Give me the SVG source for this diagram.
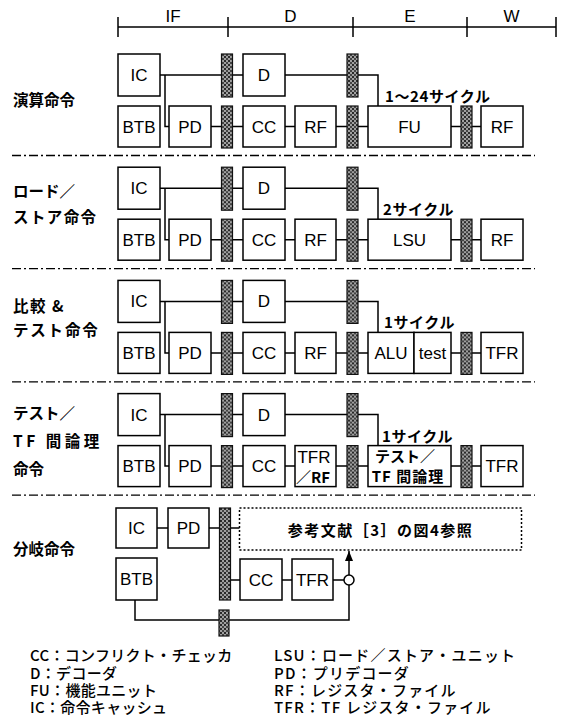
<svg xmlns="http://www.w3.org/2000/svg" width="563" height="718" viewBox="0 0 563 718">
<defs>
<pattern id="hatch" width="4" height="4" patternUnits="userSpaceOnUse">
<rect width="4" height="4" fill="#a0a0a0"/>
<rect x="0" y="0" width="2" height="2" fill="#2a2a2a"/>
<rect x="2" y="2" width="2" height="2" fill="#444"/>
</pattern>
<marker id="arr" markerWidth="10" markerHeight="8" refX="10" refY="4" orient="auto" markerUnits="userSpaceOnUse" viewBox="0 0 10 8">
<path d="M0,0 L10,4 L0,8 Z" fill="#000"/>
</marker>
</defs>
<style>
.box{fill:#fff;stroke:#000;stroke-width:1.5}
.bar{fill:url(#hatch);stroke:#111;stroke-width:1.2}
.ln{fill:none;stroke:#000;stroke-width:1.5}
.sep{fill:none;stroke:#000;stroke-width:1.3;stroke-dasharray:9 3 2 3}
.dot{fill:none;stroke:#000;stroke-width:1.5;stroke-dasharray:2 2}
.t{font-family:"Liberation Sans",Arial,sans-serif;font-size:17px;text-anchor:middle;fill:#000}
.hd{font-family:"Liberation Sans",Arial,sans-serif;font-size:17px;text-anchor:middle;fill:#000}
.jp{font-family:"Noto Sans CJK JP",sans-serif;font-weight:700;font-size:15.5px;fill:#000}
.jc{font-family:"Noto Sans CJK JP",sans-serif;font-weight:700;font-size:15px;fill:#000;text-anchor:middle}
.cy{font-family:"Noto Sans CJK JP",sans-serif;font-weight:700;font-size:15px;fill:#000}
.lg{font-family:"Noto Sans CJK JP",sans-serif;font-weight:500;font-size:15px;fill:#000}
</style>
<rect width="563" height="718" fill="#fff"/>

<g id="timeline">
<path class="ln" d="M118,27 H556 M118,17 V37 M228,17 V37 M353,17 V37 M467,17 V37 M556,17 V37"/>
<text class="hd" x="173" y="22">IF</text>
<text class="hd" x="290.5" y="22">D</text>
<text class="hd" x="410" y="22">E</text>
<text class="hd" x="511.5" y="22">W</text>
</g>

<g id="separators">
<path class="sep" d="M12,155.5 H535"/>
<path class="sep" d="M12,268.7 H535"/>
<path class="sep" d="M12,381.9 H535"/>
<path class="sep" d="M12,495.1 H535"/>
</g>

<g id="row-labels">
<text class="jp" x="13" y="106">演算命令</text>
<text class="jp" x="13" y="197">ロード／</text>
<text class="jp" x="13" y="223" letter-spacing="1.4">ストア命令</text>
<text class="jp" x="13" y="312" letter-spacing="1.5">比較 &amp;</text>
<text class="jp" x="13" y="336" letter-spacing="1.8">テスト命令</text>
<text class="jp" x="13" y="419">テスト／</text>
<text class="jp" x="13" y="447" letter-spacing="3.5">TF 間論理</text>
<text class="jp" x="13" y="475">命令</text>
<text class="jp" x="13" y="555">分岐命令</text>
</g>

<!-- Row 1 -->
<g id="row1" transform="translate(0,0)">
<g id="r1-connectors">
<path class="ln" d="M160,75 H243 M285,75 H378 V106 M165,75 V126.5 H169 M211,126.5 H243 M285,126.5 H295 M336,126.5 H368 M451,126.5 H481"/>
</g>
<g id="r1-IC"><rect class="box" x="118" y="54" width="42" height="42"/><text class="t" x="139" y="81">IC</text></g>
<g id="r1-D"><rect class="box" x="243" y="54" width="42" height="42"/><text class="t" x="264" y="81">D</text></g>
<g id="r1-BTB"><rect class="box" x="118" y="106" width="42" height="41"/><text class="t" x="139" y="132.5">BTB</text></g>
<g id="r1-PD"><rect class="box" x="169" y="106" width="42" height="41"/><text class="t" x="190" y="132.5">PD</text></g>
<g id="r1-CC"><rect class="box" x="243" y="106" width="42" height="41"/><text class="t" x="264" y="132.5">CC</text></g>
<g id="r1-RF"><rect class="box" x="295" y="106" width="41" height="41"/><text class="t" x="315.5" y="132.5">RF</text></g>
<g id="r1-FU"><rect class="box" x="368" y="106" width="83" height="41"/><text class="t" x="409.5" y="132.5">FU</text></g>
<g id="r1-RF2"><rect class="box" x="481" y="106" width="42" height="41"/><text class="t" x="502" y="132.5">RF</text></g>
<g id="r1-latches">
<rect class="bar" x="221.5" y="54" width="11" height="43"/>
<rect class="bar" x="347" y="54" width="11" height="43"/>
<rect class="bar" x="221.5" y="106" width="11" height="42"/>
<rect class="bar" x="347" y="106" width="11" height="42"/>
<rect class="bar" x="461" y="106" width="11" height="42"/>
</g>
<text class="cy" x="385" y="102" letter-spacing="0.6">1～24サイクル</text>
</g>

<!-- Row 2 -->
<g id="row2" transform="translate(0,113.2)">
<g id="r2-connectors">
<path class="ln" d="M160,75 H243 M285,75 H378 V106 M165,75 V126.5 H169 M211,126.5 H243 M285,126.5 H295 M336,126.5 H368 M451,126.5 H481"/>
</g>
<g id="r2-IC"><rect class="box" x="118" y="54" width="42" height="42"/><text class="t" x="139" y="81">IC</text></g>
<g id="r2-D"><rect class="box" x="243" y="54" width="42" height="42"/><text class="t" x="264" y="81">D</text></g>
<g id="r2-BTB"><rect class="box" x="118" y="106" width="42" height="41"/><text class="t" x="139" y="132.5">BTB</text></g>
<g id="r2-PD"><rect class="box" x="169" y="106" width="42" height="41"/><text class="t" x="190" y="132.5">PD</text></g>
<g id="r2-CC"><rect class="box" x="243" y="106" width="42" height="41"/><text class="t" x="264" y="132.5">CC</text></g>
<g id="r2-RF"><rect class="box" x="295" y="106" width="41" height="41"/><text class="t" x="315.5" y="132.5">RF</text></g>
<g id="r2-LSU"><rect class="box" x="368" y="106" width="83" height="41"/><text class="t" x="409.5" y="132.5">LSU</text></g>
<g id="r2-RF2"><rect class="box" x="481" y="106" width="42" height="41"/><text class="t" x="502" y="132.5">RF</text></g>
<g id="r2-latches">
<rect class="bar" x="221.5" y="54" width="11" height="43"/>
<rect class="bar" x="347" y="54" width="11" height="43"/>
<rect class="bar" x="221.5" y="106" width="11" height="42"/>
<rect class="bar" x="347" y="106" width="11" height="42"/>
<rect class="bar" x="461" y="106" width="11" height="42"/>
</g>
<text class="cy" x="383" y="102" letter-spacing="0.6">2サイクル</text>
</g>

<!-- Row 3 -->
<g id="row3" transform="translate(0,226.4)">
<g id="r3-connectors">
<path class="ln" d="M160,75 H243 M285,75 H378 V106 M165,75 V126.5 H169 M211,126.5 H243 M285,126.5 H295 M336,126.5 H368 M451,126.5 H481"/>
</g>
<g id="r3-IC"><rect class="box" x="118" y="54" width="42" height="42"/><text class="t" x="139" y="81">IC</text></g>
<g id="r3-D"><rect class="box" x="243" y="54" width="42" height="42"/><text class="t" x="264" y="81">D</text></g>
<g id="r3-BTB"><rect class="box" x="118" y="106" width="42" height="41"/><text class="t" x="139" y="132.5">BTB</text></g>
<g id="r3-PD"><rect class="box" x="169" y="106" width="42" height="41"/><text class="t" x="190" y="132.5">PD</text></g>
<g id="r3-CC"><rect class="box" x="243" y="106" width="42" height="41"/><text class="t" x="264" y="132.5">CC</text></g>
<g id="r3-RF"><rect class="box" x="295" y="106" width="41" height="41"/><text class="t" x="315.5" y="132.5">RF</text></g>
<g id="r3-ALU"><rect class="box" x="368" y="106" width="46" height="41"/><text class="t" x="391" y="132.5">ALU</text></g>
<g id="r3-test"><rect class="box" x="414" y="106" width="37" height="41"/><text class="t" x="432.5" y="132.5">test</text></g>
<g id="r3-TFR"><rect class="box" x="481" y="106" width="42" height="41"/><text class="t" x="502" y="132.5">TFR</text></g>
<g id="r3-latches">
<rect class="bar" x="221.5" y="54" width="11" height="43"/>
<rect class="bar" x="347" y="54" width="11" height="43"/>
<rect class="bar" x="221.5" y="106" width="11" height="42"/>
<rect class="bar" x="347" y="106" width="11" height="42"/>
<rect class="bar" x="461" y="106" width="11" height="42"/>
</g>
<text class="cy" x="384" y="102" letter-spacing="0.6">1サイクル</text>
</g>

<!-- Row 4 -->
<g id="row4" transform="translate(0,339.6)">
<g id="r4-connectors">
<path class="ln" d="M160,75 H243 M285,75 H378 V106 M165,75 V126.5 H169 M211,126.5 H243 M285,126.5 H295 M336,126.5 H368 M451,126.5 H481"/>
</g>
<g id="r4-IC"><rect class="box" x="118" y="54" width="42" height="42"/><text class="t" x="139" y="81">IC</text></g>
<g id="r4-D"><rect class="box" x="243" y="54" width="42" height="42"/><text class="t" x="264" y="81">D</text></g>
<g id="r4-BTB"><rect class="box" x="118" y="106" width="42" height="41"/><text class="t" x="139" y="132.5">BTB</text></g>
<g id="r4-PD"><rect class="box" x="169" y="106" width="42" height="41"/><text class="t" x="190" y="132.5">PD</text></g>
<g id="r4-CC"><rect class="box" x="243" y="106" width="42" height="41"/><text class="t" x="264" y="132.5">CC</text></g>
<g id="r4-TFRRF"><rect class="box" x="295" y="106" width="41" height="41"/>
<text class="t" x="314" y="123.5" font-size="15">TFR</text>
<text class="jc" x="313" y="143">／RF</text></g>
<g id="r4-TEST"><rect class="box" x="368" y="106" width="83" height="41"/>
<text class="jc" x="405" y="122">テスト／</text>
<text class="jc" x="408" y="142" letter-spacing="1">TF 間論理</text></g>
<g id="r4-TFR"><rect class="box" x="481" y="106" width="42" height="41"/><text class="t" x="502" y="132.5">TFR</text></g>
<g id="r4-latches">
<rect class="bar" x="221.5" y="54" width="11" height="43"/>
<rect class="bar" x="347" y="54" width="11" height="43"/>
<rect class="bar" x="221.5" y="106" width="11" height="42"/>
<rect class="bar" x="347" y="106" width="11" height="42"/>
<rect class="bar" x="461" y="106" width="11" height="42"/>
</g>
<text class="cy" x="382" y="102" letter-spacing="0.6">1サイクル</text>
</g>

<!-- Branch row -->
<g id="branch">
<g id="b-connectors">
<path class="ln" d="M157,528 H168 M209,528 H239.5 M230,580 H240 M282,580 H292 M333,580 H344 M135,600 V620 H349 V585"/>
<path class="ln" d="M349,575 V551" marker-end="url(#arr)"/>
</g>
<g id="b-IC"><rect class="box" x="116" y="508" width="41" height="40"/><text class="t" x="136.5" y="534">IC</text></g>
<g id="b-PD"><rect class="box" x="168" y="508" width="41" height="40"/><text class="t" x="188.5" y="534">PD</text></g>
<g id="b-BTB"><rect class="box" x="116" y="558" width="41" height="42"/><text class="t" x="136.5" y="585">BTB</text></g>
<g id="b-CC"><rect class="box" x="240" y="559" width="42" height="41"/><text class="t" x="261" y="586">CC</text></g>
<g id="b-TFR"><rect class="box" x="292" y="559" width="41" height="41"/><text class="t" x="312.5" y="586">TFR</text></g>
<g id="b-ref"><rect class="dot" x="239.5" y="508" width="282" height="42"/>
<text class="jc" x="380.5" y="536" font-size="18" letter-spacing="1.5">参考文献［3］の図4参照</text></g>
<g id="b-latch1"><rect class="bar" x="219.5" y="508" width="11" height="92"/></g>
<g id="b-latch2"><rect class="bar" x="219" y="610" width="10" height="26"/></g>
<g id="b-join"><circle cx="349" cy="580" r="5" fill="#fff" stroke="#000" stroke-width="1.5"/></g>
</g>

<g id="legend">
<text class="lg" x="30" y="661" letter-spacing="0.3">CC：コンフリクト・チェッカ</text>
<text class="lg" x="30" y="678.5" letter-spacing="0.3">D：デコーダ</text>
<text class="lg" x="30" y="696" letter-spacing="0.3">FU：機能ユニット</text>
<text class="lg" x="30" y="713" letter-spacing="0.3">IC：命令キャッシュ</text>
<text class="lg" x="274" y="661" letter-spacing="1.2">LSU：ロード／ストア・ユニット</text>
<text class="lg" x="274" y="678.5" letter-spacing="1.2">PD：プリデコーダ</text>
<text class="lg" x="274" y="696" letter-spacing="1.2">RF：レジスタ・ファイル</text>
<text class="lg" x="274" y="713" letter-spacing="1.2">TFR：TF レジスタ・ファイル</text>
</g>
</svg>
